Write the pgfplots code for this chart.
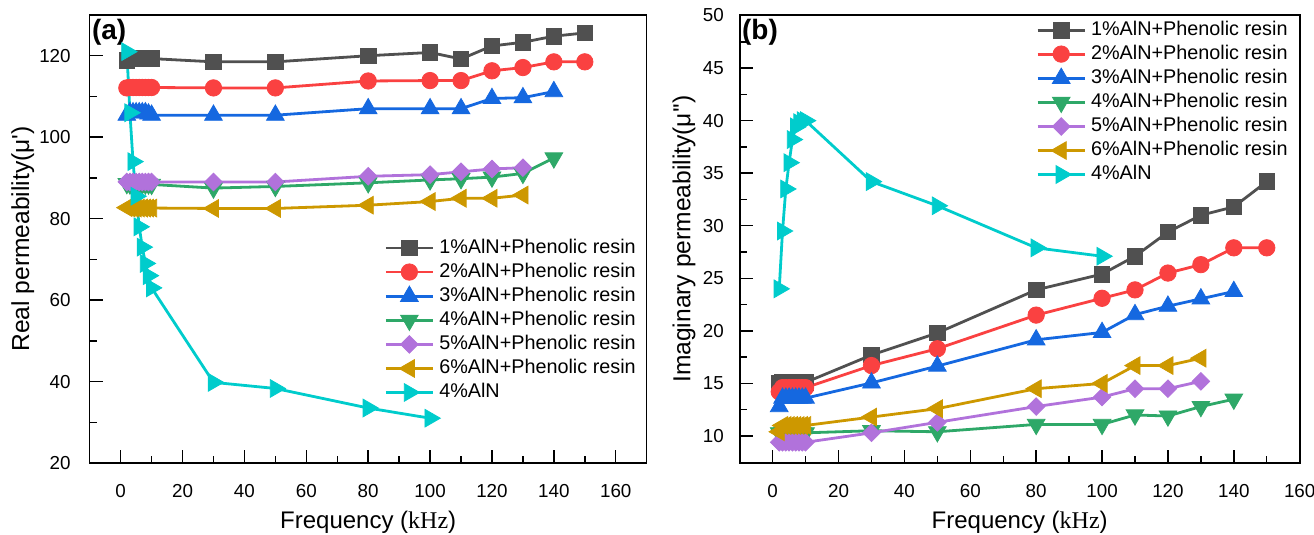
\documentclass[border=0pt]{standalone}
\usepackage{fontspec}
\setmainfont{Liberation Sans}
\newfontfamily\serifkhz{Liberation Serif}
\usepackage{pgfplots}
\pgfplotsset{compat=1.18}
\definecolor{c1}{RGB}{80,80,80}
\definecolor{c2}{RGB}{250,65,65}
\definecolor{c3}{RGB}{21,104,224}
\definecolor{c4}{RGB}{46,168,104}
\definecolor{c5}{RGB}{177,114,219}
\definecolor{c6}{RGB}{205,152,0}
\definecolor{c7}{RGB}{0,204,204}
\pgfplotsset{
  myaxis/.style={
    scale only axis, height=224pt,
    xmin=-10,
    xtick={0,20,...,160}, minor x tick num=1,
    minor y tick num=1,
    tick align=inside, xtick pos=bottom, ytick pos=left,
    major tick length=6.5pt, minor tick length=3.5pt,
    every tick/.style={black, line width=0.7pt},
    axis line style={line width=0.8pt},
    /pgf/number format/assume math mode=true,
    ticklabel style={font=\fontsize{9.4}{11}\selectfont},
    xticklabel style={yshift=-7pt},
    every axis x label/.style={at={(axis description cs:0.5,0)}, anchor=north, yshift=-24pt, inner sep=0pt, font=\fontsize{12}{14}\selectfont},
    legend style={draw=none, fill=none, inner sep=0pt, font=\fontsize{9.9}{11}\selectfont,
      nodes={inner xsep=2.5pt, inner ysep=0.5pt, text height=7pt, text depth=2pt}, row sep=2pt},
    legend cell align=left,
    legend image code/.code={\draw[mark repeat=2,mark phase=2] plot coordinates {(0pt,0pt)(11.75pt,0pt)(23.5pt,0pt)};},
    every axis plot/.append style={line width=1.4pt},
  },
  s1/.style={color=c1, mark=square*, mark size=3.9pt, mark options={solid, line width=0.4pt}},
  s2/.style={color=c2, mark=*, mark size=4.1pt, mark options={solid, line width=0.4pt}},
  s3/.style={color=c3, mark=triangle*, mark size=5.1pt, mark options={solid, line width=0.4pt}},
  s4/.style={color=c4, mark=triangle*, mark size=5.1pt, mark options={solid, line width=0.4pt, rotate=180}},
  s5/.style={color=c5, mark=square*, mark size=3.1pt, mark options={solid, line width=0.4pt, rotate=45}},
  s6/.style={color=c6, mark=triangle*, mark size=5.1pt, mark options={solid, line width=0.4pt, rotate=90}},
  s7/.style={color=c7, mark=triangle*, mark size=5.1pt, mark options={solid, line width=0.4pt, rotate=-90}},
}
\begin{document}
\begin{tikzpicture}
\useasboundingbox (0,0) rectangle (657pt,-267.5pt);
% ---------------- (a) ----------------
\begin{axis}[myaxis,
  at={(44.85pt,-7.5pt)}, anchor=north west, width=278.5pt,
  xmax=170, ymin=20, ymax=130,
  ytick={20,40,...,120},
  yticklabel style={xshift=-6pt},
  every axis y label/.style={at={(axis description cs:-0.1203,0.5)}, rotate=90, anchor=center, inner sep=0pt, font=\fontsize{12.3}{14}\selectfont},
  xlabel={Frequency ({\serifkhz kHz})},
  ylabel={Real permeability(μ\textquotesingle)},
  legend style={at={(axis description cs:0.99,0.503)}, anchor=north east},
]
\addplot[s1] coordinates {(2,118.8)(3,119.2)(4,119.3)(5,119.3)(6,119.3)(7,119.3)(8,119.3)(9,119.3)(10,119.3)(30,118.5)(50,118.5)(80,120)(100,120.8)(110,119.2)(120,122.4)(130,123.3)(140,124.8)(150,125.6)};
\addlegendentry{1\%AlN+Phenolic resin}
\addplot[s2] coordinates {(2,112.1)(3,112.2)(4,112.2)(5,112.2)(6,112.2)(7,112.2)(8,112.2)(9,112.2)(10,112.2)(30,112.1)(50,112.1)(80,113.8)(100,113.9)(110,113.9)(120,116.3)(130,117.1)(140,118.5)(150,118.5)};
\addlegendentry{2\%AlN+Phenolic resin}
\addplot[s3] coordinates {(2,105.4)(3,106.0)(4,106.0)(5,106.0)(6,106.0)(7,106.0)(8,106.0)(9,105.7)(10,105.4)(30,105.4)(50,105.4)(80,107.0)(100,107.0)(110,107.0)(120,109.5)(130,109.7)(140,111.2)};
\addlegendentry{3\%AlN+Phenolic resin}
\addplot[s4] coordinates {(2,88.6)(3,88.5)(4,88.5)(5,88.5)(6,88.5)(7,88.5)(8,88.5)(9,88.5)(10,88.4)(30,87.5)(50,87.9)(80,88.8)(100,89.5)(110,89.8)(120,90.2)(130,91.1)(140,94.9)};
\addlegendentry{4\%AlN+Phenolic resin}
\addplot[s5] coordinates {(2,89)(3,89)(4,89)(5,89)(6,89)(7,89)(8,89)(9,89)(10,89)(30,89)(50,89)(80,90.4)(100,90.8)(110,91.5)(120,92.2)(130,92.5)};
\addlegendentry{5\%AlN+Phenolic resin}
\addplot[s6] coordinates {(2,82.7)(3,82.6)(4,82.6)(5,82.6)(6,82.6)(7,82.6)(8,82.6)(9,82.6)(10,82.6)(30,82.5)(50,82.5)(80,83.3)(100,84.2)(110,85)(120,85)(130,85.8)};
\addlegendentry{6\%AlN+Phenolic resin}
\addplot[s7] coordinates {(2,121)(3,106)(4,94)(5,85.5)(6,78)(7,73)(8,69)(9,66)(10,63)(30,39.8)(50,38.3)(80,33.5)(100,31)};
\addlegendentry{4\%AlN}
\node[anchor=north west, inner sep=0pt, font=\bfseries\fontsize{14}{16}\selectfont] at ([xshift=1pt,yshift=-2pt]rel axis cs:0,1) {(a)};
\end{axis}
% ---------------- (b) ----------------
\begin{axis}[myaxis,
  at={(369.85pt,-7.5pt)}, anchor=north west, width=280pt,
  xmax=160, ymin=7.43, ymax=50.05,
  ytick={10,15,...,50},
  yticklabel style={xshift=-4.4pt},
  every axis y label/.style={at={(axis description cs:-0.0995,0.5)}, rotate=90, anchor=center, inner sep=0pt, font=\fontsize{12.3}{14}\selectfont},
  xlabel={Frequency ({\serifkhz kHz})},
  ylabel={Imaginary permeability(μ\textquotesingle\textquotesingle)},
  legend style={at={(axis description cs:0.988,0.9895)}, anchor=north east},
]
\addplot[s1] coordinates {(2,15.0)(3,15.1)(4,15.1)(5,15.1)(6,15.1)(7,15.1)(8,15.1)(9,15.1)(10,15.1)(30,17.7)(50,19.8)(80,23.9)(100,25.4)(110,27.1)(120,29.4)(130,31.0)(140,31.8)(150,34.2)};
\addlegendentry{1\%AlN+Phenolic resin}
\addplot[s2] coordinates {(2,14.2)(3,14.6)(4,14.6)(5,14.6)(6,14.6)(7,14.6)(8,14.6)(9,14.6)(10,14.6)(30,16.7)(50,18.3)(80,21.5)(100,23.1)(110,23.9)(120,25.5)(130,26.3)(140,27.9)(150,27.9)};
\addlegendentry{2\%AlN+Phenolic resin}
\addplot[s3] coordinates {(2,12.8)(3,13.6)(4,13.6)(5,13.6)(6,13.6)(7,13.6)(8,13.6)(9,13.6)(10,13.6)(30,15.05)(50,16.65)(80,19.15)(100,19.85)(110,21.55)(120,22.35)(130,23.05)(140,23.75)};
\addlegendentry{3\%AlN+Phenolic resin}
\addplot[s4] coordinates {(2,10.3)(3,10.3)(4,10.3)(5,10.3)(6,10.3)(7,10.3)(8,10.3)(9,10.3)(10,10.3)(30,10.5)(50,10.4)(80,11.1)(100,11.1)(110,12.0)(120,11.9)(130,12.8)(140,13.5)};
\addlegendentry{4\%AlN+Phenolic resin}
\addplot[s5] coordinates {(2,9.4)(3,9.4)(4,9.4)(5,9.4)(6,9.4)(7,9.4)(8,9.4)(9,9.4)(10,9.4)(30,10.3)(50,11.3)(80,12.8)(100,13.7)(110,14.5)(120,14.5)(130,15.2)};
\addlegendentry{5\%AlN+Phenolic resin}
\addplot[s6] coordinates {(2,10.4)(3,11.0)(4,11.0)(5,11.0)(6,11.0)(7,11.0)(8,11.0)(9,11.0)(10,11.0)(30,11.8)(50,12.6)(80,14.5)(100,15.0)(110,16.7)(120,16.7)(130,17.4)};
\addlegendentry{6\%AlN+Phenolic resin}
\addplot[s7] coordinates {(2,24)(3,29.5)(4,33.5)(5,36)(6,38.2)(7,39.4)(8,39.8)(9,40)(10,40)(30,34.2)(50,31.9)(80,27.9)(100,27.1)};
\addlegendentry{4\%AlN}
\node[anchor=north west, inner sep=0pt, font=\bfseries\fontsize{14}{16}\selectfont] at ([xshift=1pt,yshift=-2pt]rel axis cs:0,1) {(b)};
\end{axis}
\end{tikzpicture}
\end{document}
